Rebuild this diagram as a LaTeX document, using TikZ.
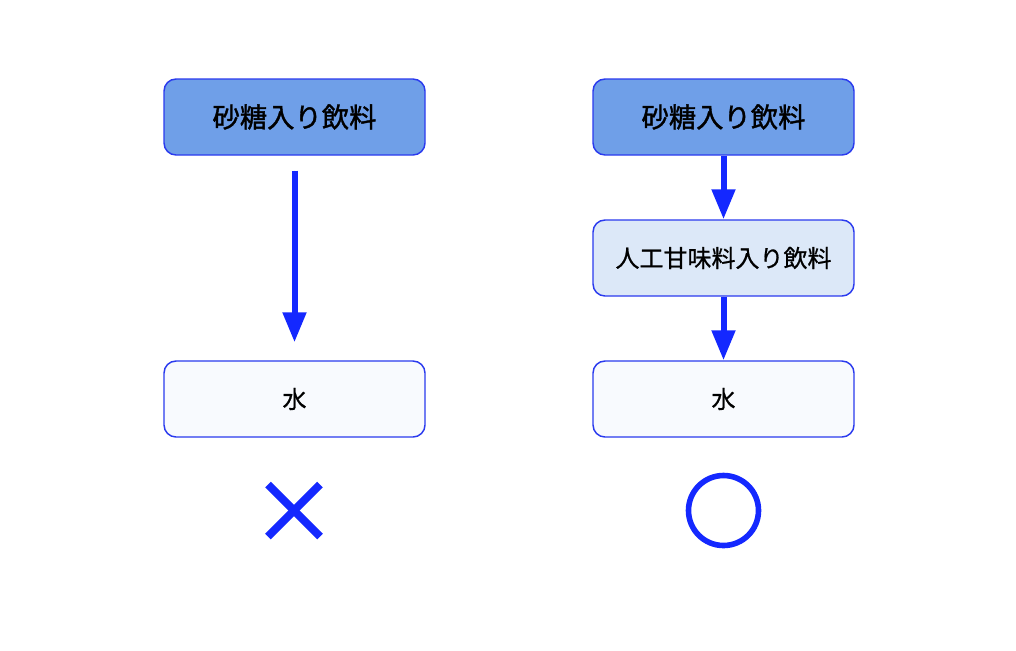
\documentclass[tikz,border=0pt]{standalone}
\usepackage{fontspec}
\setmainfont{Noto Sans CJK JP}[FakeBold=0.8]
\newfontfamily\heavyjp{Noto Sans CJK JP}[FakeBold=1.4]
\usetikzlibrary{arrows.meta}
\definecolor{bordblue}{HTML}{2A3AEE}
\definecolor{arrblue}{HTML}{1428FF}
\definecolor{topfill}{HTML}{6F9FE8}
\definecolor{midfill}{HTML}{DCE8F8}
\definecolor{botfill}{HTML}{F8FAFE}
\tikzset{
  box/.style={draw=bordblue, line width=1.1pt, rounded corners=9pt,
    minimum width=195.75pt, minimum height=57pt, inner sep=0pt, text=black},
  topbox/.style={box, fill=topfill, font=\heavyjp\fontsize{20.5pt}{24pt}\selectfont},
  midbox/.style={box, fill=midfill, font=\fontsize{18pt}{22pt}\selectfont},
  botbox/.style={box, fill=botfill, font=\fontsize{18pt}{22pt}\selectfont},
  flow/.style={draw=arrblue, line width=4.5pt,
    -{Triangle[width=17pt,length=22.5pt]}, fill=arrblue},
  verdict/.style={draw=arrblue}
}
\begin{document}
\begin{tikzpicture}[x=0.75pt,y=-0.75pt]
\useasboundingbox (0,0) rectangle (1016,650);
% left column
\node[topbox] (s1) at (294.5,117) {砂糖入り飲料};
\node[botbox] (w1) at (294.5,399) {水};
\draw[flow, shorten <=11.25pt, shorten >=13.5pt] (s1) -- (w1);
% right column
\node[topbox] (s2) at (723.5,117) {砂糖入り飲料};
\node[midbox] (m2) at (723.5,258) {人工甘味料入り飲料};
\node[botbox] (w2) at (723.5,399) {水};
\draw[flow] (s2) -- (m2);
\draw[flow] (m2) -- (w2);
% marks
\coordinate (xmark) at (294,510.5);
\coordinate (omark) at (723.5,510.5);
\draw[verdict, line width=6pt] ([shift={(-26,-26)}]xmark) -- ([shift={(26,26)}]xmark);
\draw[verdict, line width=6pt] ([shift={(-26,26)}]xmark) -- ([shift={(26,-26)}]xmark);
\draw[verdict, line width=4.2pt] (omark) circle[radius=35];
\end{tikzpicture}
\end{document}
